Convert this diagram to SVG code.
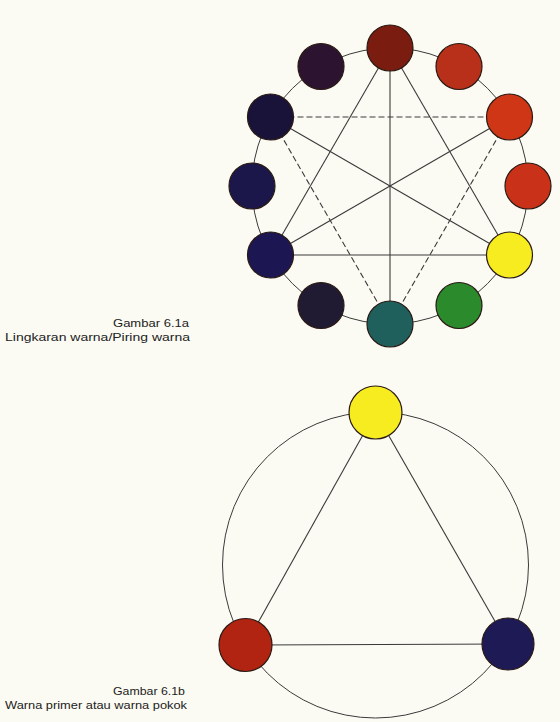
<svg xmlns="http://www.w3.org/2000/svg" width="560" height="722" viewBox="0 0 560 722">
<style>
.ring{fill:none;stroke:#3a3a3a;stroke-width:1}
.solid{stroke:#3a3a3a;stroke-width:1.1;fill:none}
.dash{stroke:#3a3a3a;stroke-width:1.1;stroke-dasharray:6,3;fill:none}
.node{stroke:#2a1a14;stroke-width:1.2}
.lbl{font-family:"Liberation Sans",Arial,sans-serif;font-size:10.5px;fill:#222}
</style>
<rect x="0" y="0" width="560" height="722" fill="#fcfbf3"/>
<g id="connectors">
<circle class="ring" cx="390" cy="186" r="138"/>
<line class="solid" x1="390" y1="48" x2="390" y2="324"/>
<line class="solid" x1="390" y1="48" x2="509.5" y2="255"/>
<line class="solid" x1="390" y1="48" x2="270.5" y2="255"/>
<line class="solid" x1="270.5" y1="255" x2="509.5" y2="255"/>
<line class="solid" x1="270.5" y1="117" x2="509.5" y2="255"/>
<line class="solid" x1="270.5" y1="255" x2="509.5" y2="117"/>
<line class="dash" x1="270.5" y1="117" x2="509.5" y2="117"/>
<line class="dash" x1="270.5" y1="117" x2="390" y2="324"/>
<line class="dash" x1="509.5" y1="117" x2="390" y2="324"/>
<circle class="ring" cx="375.5" cy="565" r="153"/>
<line class="solid" x1="375.5" y1="412.5" x2="245.5" y2="645"/>
<line class="solid" x1="375.5" y1="412.5" x2="508" y2="644"/>
<line class="solid" x1="245.5" y1="645" x2="508" y2="644"/>
</g>
<g id="n0"><circle class="node" cx="390" cy="48" r="23" fill="#7a1c10"/></g>
<g id="n30"><circle class="node" cx="459" cy="66.5" r="23" fill="#b8301a"/></g>
<g id="n60"><circle class="node" cx="509.5" cy="117" r="23" fill="#cf3616"/></g>
<g id="n90"><circle class="node" cx="528" cy="186" r="23" fill="#c93218"/></g>
<g id="n120"><circle class="node" cx="509.5" cy="255" r="23" fill="#f6ec20"/></g>
<g id="n150"><circle class="node" cx="459" cy="305.5" r="23" fill="#2b8a2c"/></g>
<g id="n180"><circle class="node" cx="390" cy="324" r="23" fill="#1f5f5c"/></g>
<g id="n210"><circle class="node" cx="321" cy="305.5" r="23" fill="#201a33"/></g>
<g id="n240"><circle class="node" cx="270.5" cy="255" r="23" fill="#1c1652"/></g>
<g id="n270"><circle class="node" cx="252" cy="186" r="23" fill="#1b174a"/></g>
<g id="n300"><circle class="node" cx="270.5" cy="117" r="23" fill="#19133a"/></g>
<g id="n330"><circle class="node" cx="321" cy="66.5" r="23" fill="#2c1430"/></g>
<g id="p-yellow"><circle class="node" cx="375.5" cy="412.5" r="26.5" fill="#f6ec20"/></g>
<g id="p-red"><circle class="node" cx="245.5" cy="645" r="26.5" fill="#b22412"/></g>
<g id="p-blue"><circle class="node" cx="508" cy="644" r="26" fill="#1e1a55"/></g>
<g id="label-a">
<text class="lbl" x="189" y="327" text-anchor="end" textLength="76" lengthAdjust="spacingAndGlyphs">Gambar 6.1a</text>
<text class="lbl" x="190" y="341" text-anchor="end" textLength="185" lengthAdjust="spacingAndGlyphs">Lingkaran warna/Piring warna</text>
</g>
<g id="label-b">
<text class="lbl" x="185" y="695" text-anchor="end" textLength="72" lengthAdjust="spacingAndGlyphs">Gambar 6.1b</text>
<text class="lbl" x="187" y="709" text-anchor="end" textLength="182" lengthAdjust="spacingAndGlyphs">Warna primer atau warna pokok</text>
</g>
</svg>
